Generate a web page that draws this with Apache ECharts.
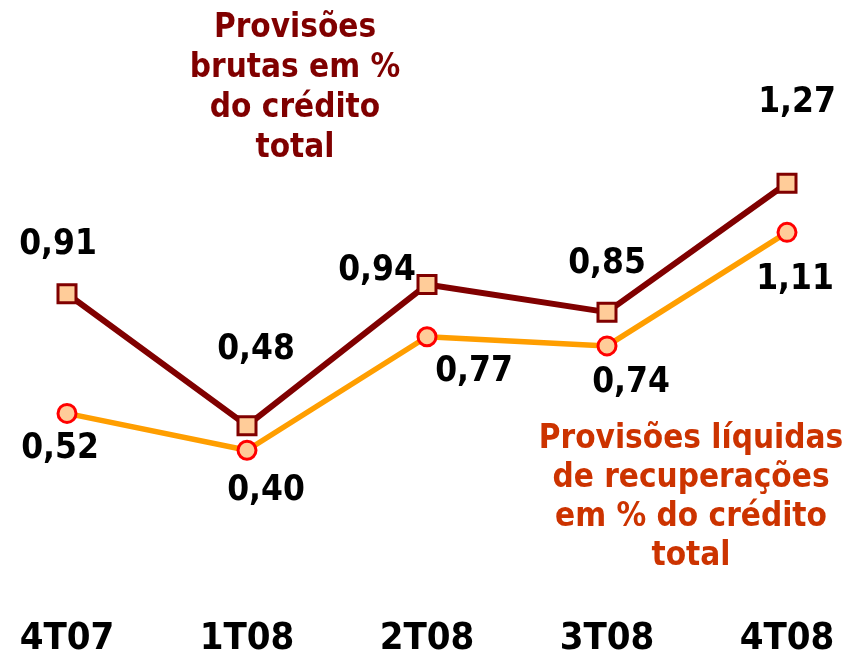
<!DOCTYPE html>
<html><head><meta charset="utf-8">
<script src="https://cdn.jsdelivr.net/npm/echarts@6/dist/echarts.min.js"></script>
<style>html,body{margin:0;padding:0;background:#fff}#c{width:856px;height:653px}</style>
</head><body><div id="c"></div>
<script>
const categories = ['4T07', '1T08', '2T08', '3T08', '4T08'];
const brutas = [0.91, 0.48, 0.94, 0.85, 1.27];
const liquidas = [0.52, 0.40, 0.77, 0.74, 1.11];
const brutasTitle = 'Provisões\nbrutas em %\ndo crédito\ntotal';
const liquidasTitle = 'Provisões líquidas\nde recuperações\nem % do crédito\ntotal';

// label placement (style only)
const brutasOffsets = [[-9, -49], [9, -76], [-50, -14], [0, -48], [10, -80]];
const liquidasOffsets = [[-7, 35], [19, 41], [47, 35], [24, 37], [8, 48]];

const fmt = v => v.toFixed(2).replace('.', ',');
const FONT = 'DejaVu Sans Condensed, DejaVu Sans';
const labelFont = {fontFamily: FONT, fontWeight: 'bold', fontSize: 35, color: '#000'};

function mkData(vals, offs) {
  return vals.map((v, i) => ({
    value: v,
    label: {show: true, position: 'inside', offset: offs[i], formatter: fmt(v), ...labelFont}
  }));
}

const chart = echarts.init(document.getElementById('c'));
chart.setOption({
  animation: false,
  grid: {left: 67, right: 69, top: 82, bottom: 80, outerBoundsMode: 'none', containLabel: false},
  xAxis: {
    type: 'category', data: categories, boundaryGap: false,
    axisLine: {show: false}, axisTick: {show: false}, splitLine: {show: false},
    axisLabel: {margin: 47, fontFamily: FONT, fontWeight: 'bold', fontSize: 38, color: '#000'}
  },
  yAxis: {type: 'value', min: 0, max: 1.6, show: false, splitLine: {show: false}},
  series: [
    {
      type: 'line', data: mkData(liquidas, liquidasOffsets), z: 2,
      lineStyle: {color: '#ff9e00', width: 5.5},
      symbol: 'circle', symbolSize: 18,
      itemStyle: {color: '#ffcc99', borderColor: '#ff0000', borderWidth: 3}
    },
    {
      type: 'line', data: mkData(brutas, brutasOffsets), z: 3,
      lineStyle: {color: '#800000', width: 6},
      symbol: 'rect', symbolSize: 18,
      itemStyle: {color: '#ffcc99', borderColor: '#800000', borderWidth: 3}
    }
  ],
  graphic: [
    {type: 'text', x: 295, y: 8, style: {text: brutasTitle, x: 0, y: 0, align: 'center', verticalAlign: 'top',
      fontFamily: FONT, fontWeight: 'bold', fontSize: 33, lineHeight: 40, fill: '#800000'}},
    {type: 'text', x: 691, y: 420, style: {text: liquidasTitle, x: 0, y: 0, align: 'center', verticalAlign: 'top',
      fontFamily: FONT, fontWeight: 'bold', fontSize: 33, lineHeight: 39, fill: '#cc3300'}}
  ]
});
</script></body></html>
